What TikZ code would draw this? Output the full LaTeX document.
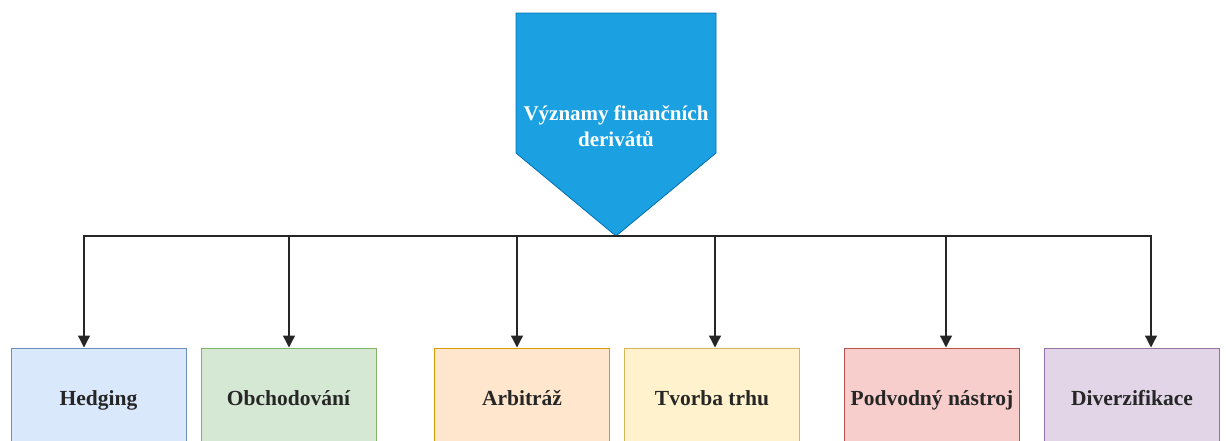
\documentclass[tikz,border=0pt]{standalone}
\usepackage{fontspec}
\setmainfont{Liberation Serif}
\usetikzlibrary{arrows.meta}
\definecolor{headfill}{HTML}{1BA1E2}
\definecolor{headline}{HTML}{006EAF}
\definecolor{bluefill}{HTML}{DAE8FC}\definecolor{blueline}{HTML}{6C8EBF}
\definecolor{greenfill}{HTML}{D5E8D4}\definecolor{greenline}{HTML}{82B366}
\definecolor{orangefill}{HTML}{FFE6CC}\definecolor{orangeline}{HTML}{D79B00}
\definecolor{yellowfill}{HTML}{FFF2CC}\definecolor{yellowline}{HTML}{D6B656}
\definecolor{redfill}{HTML}{F8CECC}\definecolor{redline}{HTML}{B85450}
\definecolor{purplefill}{HTML}{E1D5E7}\definecolor{purpleline}{HTML}{9673A6}
\tikzset{
  item/.style={draw, line width=1pt, minimum width=175pt, minimum height=100pt,
    inner sep=0pt, text height=17pt, text depth=3pt,
    font=\fontsize{21.5}{26}\selectfont\bfseries, text=black!85},
  link/.style={draw=black!85, line width=1.3pt, -{Triangle[length=12pt,width=12pt]}}
}
\begin{document}
\begin{tikzpicture}[x=1pt,y=-1pt]
  \useasboundingbox (0,0) rectangle (1226,440);
  \clip (0,0) rectangle (1226,440);
  % heading pentagon
  \filldraw[fill=headfill, draw=headline, line width=0.8pt]
    (516,13) -- (716,13) -- (716,153) -- (616,236) -- (516,153) -- cycle;
  \coordinate (tip) at (616,236);
  \node[text=white, align=center, font=\fontsize{21}{26}\selectfont\bfseries]
    (title) at (616,126) {Významy finančních\\derivátů};
  % the six uses
  \node[item, fill=bluefill, draw=blueline]     (hedge) at (98.5,398)  {Hedging};
  \node[item, fill=greenfill, draw=greenline]   (trade) at (288.5,398) {Obchodování};
  \node[item, fill=orangefill, draw=orangeline] (arb)   at (522,398)   {Arbitráž};
  \node[item, fill=yellowfill, draw=yellowline] (mm)    at (712,398)   {Tvorba trhu};
  \node[item, fill=redfill, draw=redline]       (fraud) at (932,398)   {Podvodný nástroj};
  \node[item, fill=purplefill, draw=purpleline] (div)   at (1132,398)  {Diverzifikace};
  % connectors
  \draw[link] (tip) -| ([xshift=-14.5pt]hedge.north);
  \draw[link] (tip) -| ([xshift=0.5pt]trade.north);
  \draw[link] (tip) -| ([xshift=-5pt]arb.north);
  \draw[link] (tip) -| ([xshift=3pt]mm.north);
  \draw[link] (tip) -| ([xshift=14pt]fraud.north);
  \draw[link] (tip) -| ([xshift=19pt]div.north);
\end{tikzpicture}
\end{document}
